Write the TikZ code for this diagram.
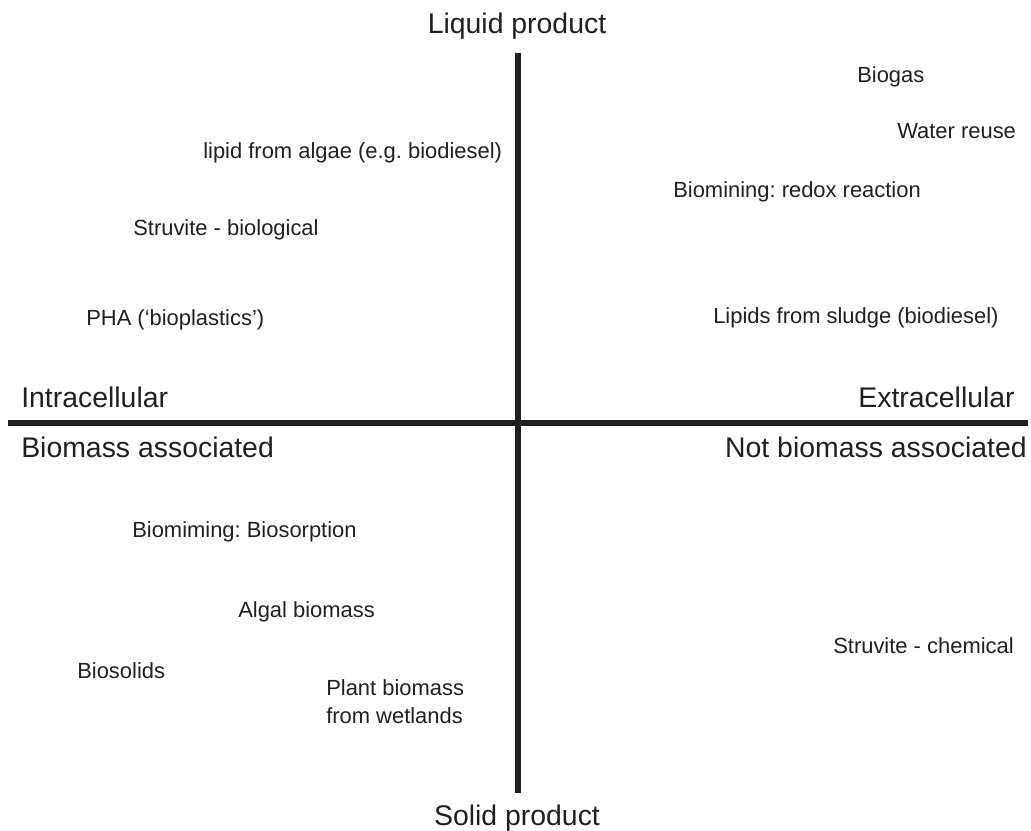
\documentclass[tikz,border=0pt]{standalone}
\usepackage{fontspec}
\setmainfont{Liberation Sans}
\usepackage{tikz}
\usetikzlibrary{positioning}
\definecolor{tinta}{HTML}{231F20}
\frenchspacing
\tikzset{
  eje/.style={line width=0.17cm, draw=tinta},
  polo/.style={inner sep=0pt, text=tinta, font=\fontsize{20.2}{24}\selectfont},
  item/.style={inner sep=0pt, text=tinta, align=left,
               font=\fontsize{15.6}{19.9}\selectfont}
}

\begin{document}
\begin{tikzpicture}[x=0.025cm, y=-0.025cm]
  \useasboundingbox (0,0) rectangle (1031,830);
  % --- Ejes ---
  \def\xC{518}     % x del eje vertical
  \def\yC{423}     % y del eje horizontal
  \coordinate (N) at (\xC,53);
  \coordinate (S) at (\xC,793);
  \coordinate (W) at (8,\yC);
  \coordinate (E) at (1028,\yC);
  \draw[eje] (N) -- (S);
  \draw[eje] (W) -- (E);

  % --- Polos ---
  \node[polo, anchor=base] (liq) at (517,33) {Liquid product};
  \node[polo, anchor=base] (sol) at (517,825) {Solid product};
  \node[polo, anchor=base west] (intra) at (21,407) {Intracellular};
  \node[polo, anchor=base east] (extra) at (1015,407) {Extracellular};
  \node[polo, anchor=base west] (bioA) at (21,457) {Biomass associated};
  \node[polo, anchor=base east] (bioN) at (1027,457) {Not biomass associated};

  % --- Productos ---
  \node[item, anchor=base west] (lipAlg) at (203,158) {lipid from algae (e.g. biodiesel)};
  \node[item, anchor=base west] (strB) at (133,235) {Struvite - biological};
  \node[item, anchor=base west] (pha) at (86,325) {PHA (‘bioplastics’)};
  \node[item, anchor=base west] (biogas) at (857,82) {Biogas};
  \node[item, anchor=base west] (agua) at (897,138) {Water reuse};
  \node[item, anchor=base west] (redox) at (673,197) {Biomining: redox reaction};
  \node[item, anchor=base west] (lipLod) at (713,323) {Lipids from sludge (biodiesel)};
  \node[item, anchor=base west] (sorc) at (132,537) {Biomiming: Biosorption};
  \node[item, anchor=base west] (algal) at (238,617) {Algal biomass};
  \node[item, anchor=base west] (solids) at (77,678) {Biosolids};
  \node[item, anchor=base west] (planta) at (326,723) {Plant biomass\\from wetlands};
  \node[item, anchor=base west] (strC) at (833,653) {Struvite - chemical};
\end{tikzpicture}
\end{document}
